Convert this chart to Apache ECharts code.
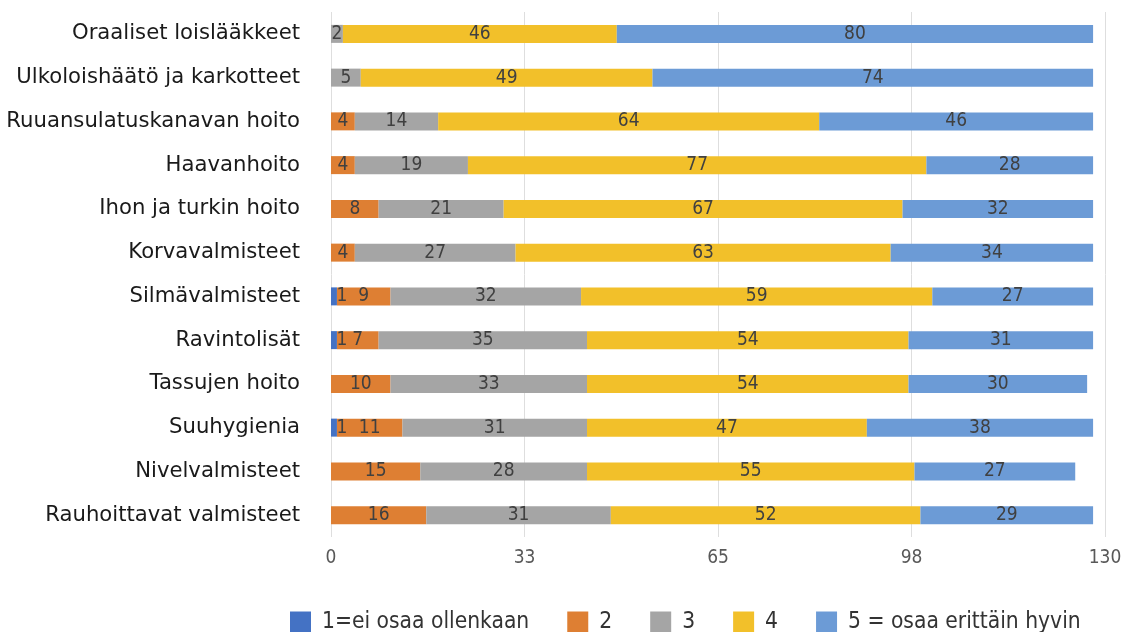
<!DOCTYPE html>
<html>
<head>
<meta charset="utf-8">
<script src="https://cdn.jsdelivr.net/npm/echarts@6/dist/echarts.min.js"></script>
<style>html,body{margin:0;padding:0;background:#fff}#c{width:1127px;height:632px}</style>
</head>
<body>
<div id="c"></div>
<script>
var categories = ["Oraaliset loislääkkeet","Ulkoloishäätö ja karkotteet","Ruuansulatuskanavan hoito","Haavanhoito","Ihon ja turkin hoito","Korvavalmisteet","Silmävalmisteet","Ravintolisät","Tassujen hoito","Suuhygienia","Nivelvalmisteet","Rauhoittavat valmisteet"];
var seriesNames = ["1=ei osaa ollenkaan","2","3","4","5 = osaa erittäin hyvin"];
var s1 = [0,0,0,0,0,0,1,1,0,1,0,0];
var s2 = [0,0,4,4,8,4,9,7,10,11,15,16];
var s3 = [2,5,14,19,21,27,32,35,33,31,28,31];
var s4 = [46,49,64,77,67,63,59,54,54,47,55,52];
var s5 = [80,74,46,28,32,34,27,31,30,38,27,29];
var colors = ["#4472C4","#DE7F33","#A5A5A5","#F2C02A","#6C9BD6"];
var allData = [s1,s2,s3,s4,s5];

var chart = echarts.init(document.getElementById('c'));
chart.setOption({
  animation:false,
  grid:{left:331,right:22,top:12,bottom:95,containLabel:false,outerBoundsMode:'none'},
  legend:{
    data:seriesNames, top:606, left:285, itemWidth:21, itemHeight:22, itemGap:38,
    icon:'rect',
    textStyle:{fontFamily:'DejaVu Sans Condensed',fontSize:22.6,color:'#333',padding:[0,0,0,6]}
  },
  xAxis:{
    type:'value', min:0, max:130, interval:32.5,
    axisLine:{show:false}, axisTick:{show:false},
    splitLine:{lineStyle:{color:'#dedede',width:1}},
    axisLabel:{formatter:function(v){return Math.round(v);},fontFamily:'DejaVu Sans Condensed',fontSize:19,color:'#595959',margin:12}
  },
  yAxis:{
    type:'category', data:categories, inverse:true,
    axisLine:{show:false}, axisTick:{show:false},
    axisLabel:{fontFamily:'DejaVu Sans',fontSize:21.2,color:'#1a1a1a',margin:31}
  },
  series: allData.map(function(d,i){
    return {
      name:seriesNames[i], type:'bar', stack:'t', barWidth:18,
      itemStyle:{color:colors[i]},
      label:{show:true,position:'inside',offset:i===0?[8,0]:[0,0],fontFamily:'DejaVu Sans Condensed',fontSize:19,color:'#404040',
        formatter:function(p){return p.value>0?p.value:'';}},
      data:d.map(function(v){return v>0?v:null;})
    };
  })
});
</script>
</body>
</html>
